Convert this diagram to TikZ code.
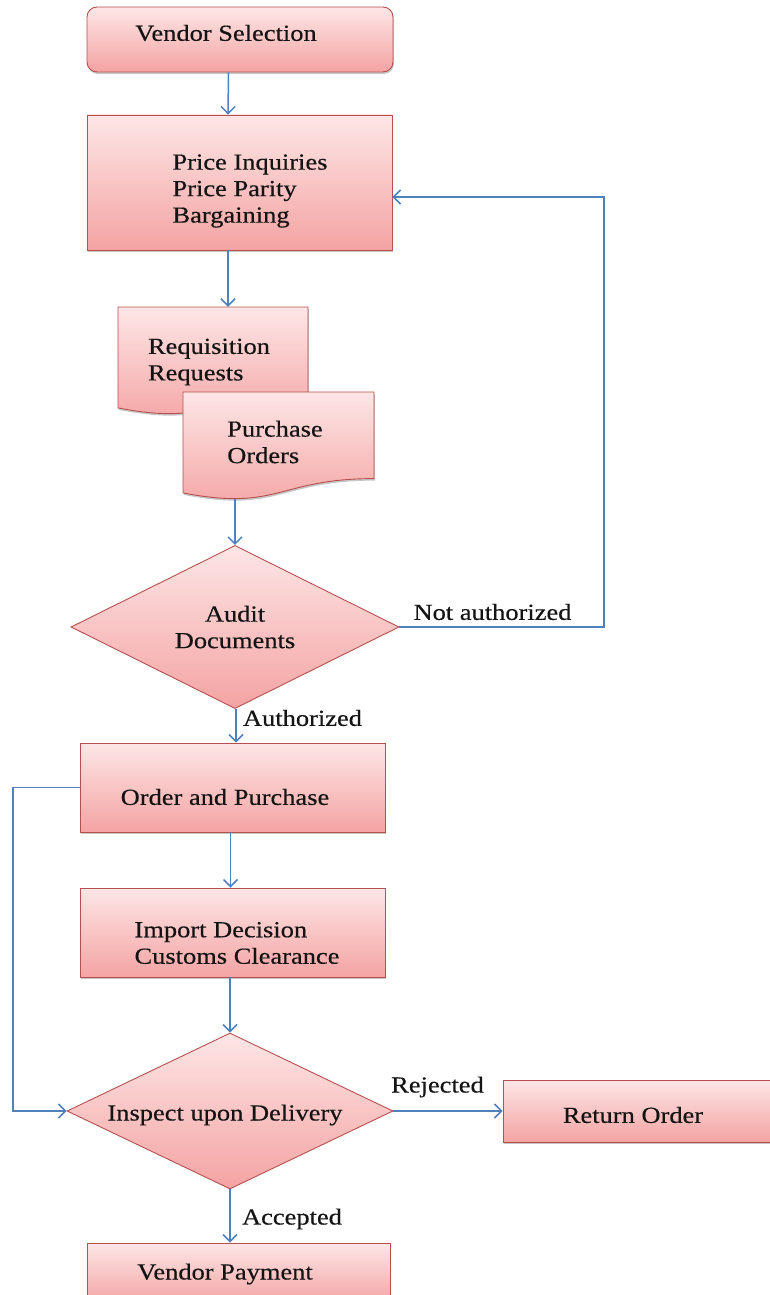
\documentclass[tikz,border=0pt]{standalone}
\usepackage{fontspec}
\setmainfont{Liberation Serif}[FakeStretch=1.15, FakeBold=0.4]
\usetikzlibrary{shapes.geometric,arrows.meta,shadows}

\definecolor{boxtop}{HTML}{FDE6E6}
\definecolor{boxbot}{HTML}{F4A3A3}
\definecolor{boxline}{HTML}{B5504E}
\definecolor{flow}{HTML}{4F81BD}
\definecolor{ink}{HTML}{141414}

\tikzset{
  txt/.style={font=\fontsize{23}{26.5}\selectfont, text=ink, inner sep=0pt},
  pinkfill/.style={top color=boxtop, bottom color=boxbot, draw=boxline, line width=0.9pt},
  softshadow/.style={drop shadow={shadow xshift=0.8pt, shadow yshift=-2pt, opacity=0.22, fill=black}},
  stepbox/.style={pinkfill, softshadow, rectangle, inner sep=0pt},
  decision/.style={pinkfill, diamond, inner sep=0pt, align=center, txt},
  docshape/.style={pinkfill, softshadow},
  anchorbox/.style={rectangle, inner sep=0pt, draw=none},
  flowarrow/.style={draw=flow, line width=1.5pt, -{Straight Barb[length=7pt,width=14pt,line width=1.5pt]}},
}

\begin{document}
\begin{tikzpicture}[x=1pt,y=-1pt]
\useasboundingbox (0,0) rectangle (770,1295);

% rails for the two loop-back lines
\coordinate (leftrail) at (13,0);
\coordinate (rightrail) at (604,0);

% vendor selection and pricing
\node[stepbox, rounded corners=10pt, minimum width=306pt, minimum height=65pt] (vs) at (240,39.5) {};
\node[txt] (vstxt) at (226,33) {Vendor Selection};

\node[stepbox, minimum width=305pt, minimum height=135pt] (price) at (239.5,182.5) {};
\node[txt, align=left] (pricetxt) at (250,191) {Price Inquiries\\Price Parity\\Bargaining};

% paperwork: two overlapping document shapes
\node[anchorbox, minimum width=190pt, minimum height=107pt] (req) at (213,360.5) {};
\node[anchorbox, minimum width=191pt, minimum height=107pt] (po) at (278.5,445.5) {};
\path[docshape] (118,307) -- (308,307) -- (308,393.6)
  .. controls (213,393.6) and (213,426.6) .. (118,407.9) -- cycle;
\node[txt, align=left] (reqtxt) at (209,362) {Requisition\\Requests};
\path[docshape] (183,392) -- (374,392) -- (374,478.6)
  .. controls (278.5,478.6) and (278.5,511.6) .. (183,492.9) -- cycle;
\node[txt, align=left] (potxt) at (275,442) {Purchase\\Orders};

% audit decision
\node[decision, minimum width=328pt, minimum height=130pt] (audit) at (235,627) {Audit\\Documents};

% ordering and import
\node[stepbox, minimum width=305pt, minimum height=89pt] (order) at (232.5,787.5) {};
\node[txt] (ordertxt) at (225,797) {Order and Purchase};

\node[stepbox, minimum width=305pt, minimum height=89pt] (import) at (232.5,932.5) {};
\node[txt, align=left] (importtxt) at (237,943) {Import Decision\\Customs Clearance};

% delivery inspection
\node[pinkfill, diamond, inner sep=0pt, minimum width=326pt, minimum height=156pt] (inspect) at (230,1111) {};
\node[txt] (inspecttxt) at (225,1115) {Inspect upon Delivery};

\node[stepbox, minimum width=272pt, minimum height=62pt] (ret) at (639,1111) {};
\node[txt] (rettxt) at (633,1115) {Return Order};

\node[stepbox, minimum width=303pt, minimum height=62pt] (vp) at (238.5,1274) {};
\node[txt] (vptxt) at (225,1274) {Vendor Payment};

% main flow
\draw[flowarrow] ([xshift=-11.5pt]vs.south) -- ([xshift=-11.5pt]price.north);
\draw[flowarrow] ([xshift=-11.5pt]price.south) -- ([xshift=15pt]req.north);
\draw[flowarrow] ([xshift=-43.5pt]po.south) -- (audit.north);
\draw[flowarrow] ([xshift=1pt]audit.south) -- ([xshift=3.5pt]order.north);
\draw[flowarrow] ([xshift=-2pt]order.south) -- ([xshift=-2pt]import.north);
\draw[flowarrow] ([xshift=-2.5pt]import.south) -- (inspect.north);
\draw[flowarrow] (inspect.south) -- ([xshift=-8.5pt]vp.north);
\draw[flowarrow] (inspect.east) -- (ret.west);

% loop-back lines
\draw[flowarrow] (audit.east) -- (audit.east -| rightrail) |- ([yshift=-14.5pt]price.east);
\draw[flowarrow] (order.west) -- (order.west -| leftrail) |- (inspect.west);

% branch labels
\node[txt] (natxt) at (492.5,612) {Not authorized};
\node[txt] (authtxt) at (302.5,718) {Authorized};
\node[txt] (rejtxt) at (437.5,1087) {Rejected};
\node[txt] (acctxt) at (292,1219) {Accepted};
\end{tikzpicture}
\end{document}
